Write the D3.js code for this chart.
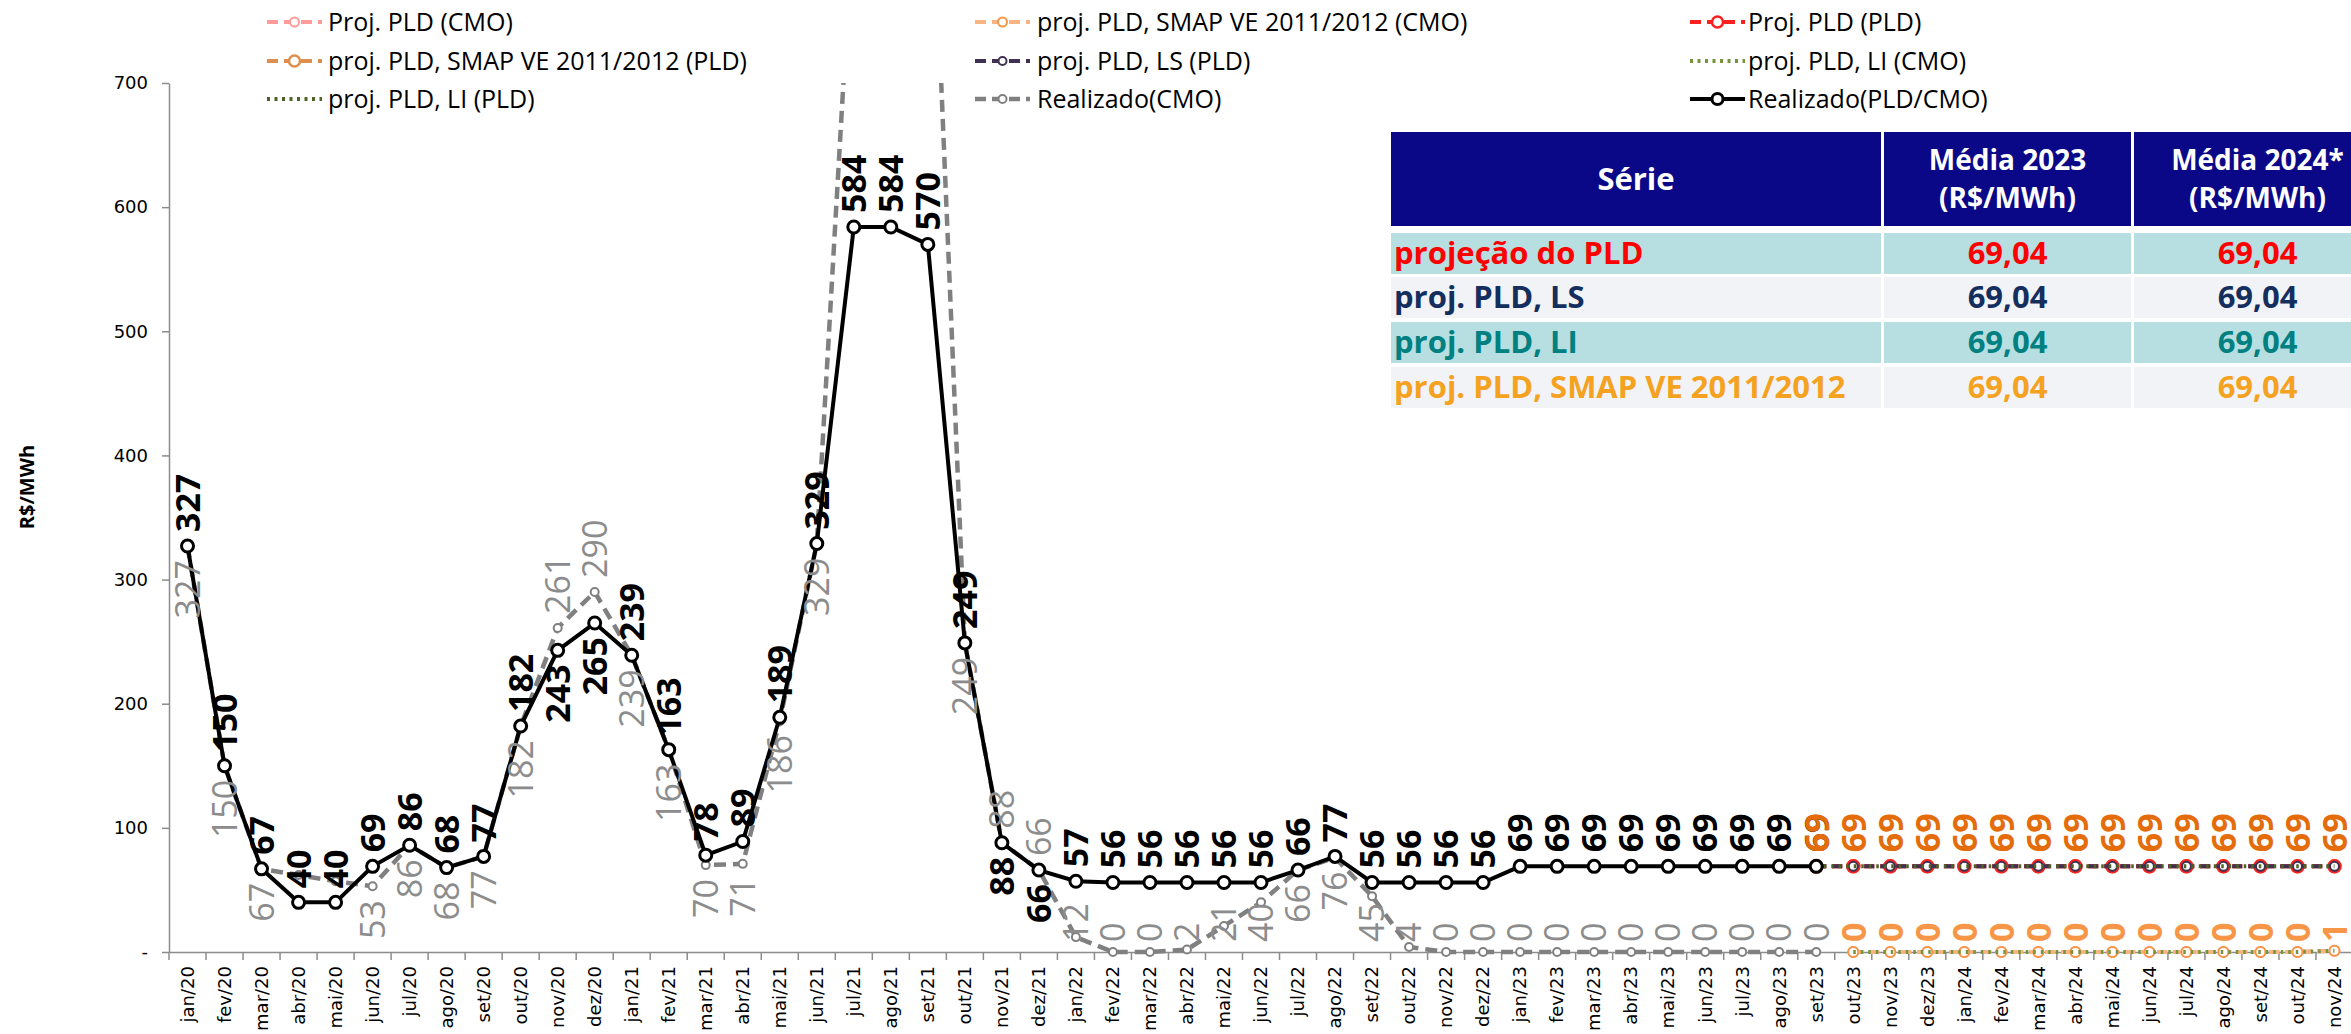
<!DOCTYPE html>
<html><head><meta charset="utf-8">
<script src="https://cdn.jsdelivr.net/npm/d3@7"></script>
<style>body{margin:0;background:#fff}svg{display:block}</style>
</head><body>
<svg id="chart" width="2351" height="1034"></svg>
<script>
// ---------------- DATA ----------------
const months = ["jan/20","fev/20","mar/20","abr/20","mai/20","jun/20","jul/20","ago/20","set/20","out/20","nov/20","dez/20",
"jan/21","fev/21","mar/21","abr/21","mai/21","jun/21","jul/21","ago/21","set/21","out/21","nov/21","dez/21",
"jan/22","fev/22","mar/22","abr/22","mai/22","jun/22","jul/22","ago/22","set/22","out/22","nov/22","dez/22",
"jan/23","fev/23","mar/23","abr/23","mai/23","jun/23","jul/23","ago/23","set/23","out/23","nov/23","dez/23",
"jan/24","fev/24","mar/24","abr/24","mai/24","jun/24","jul/24","ago/24","set/24","out/24","nov/24"];

// realized: jan/20 .. set/23
const realMonths = ["jan/20","fev/20","mar/20","abr/20","mai/20","jun/20","jul/20","ago/20","set/20","out/20","nov/20","dez/20",
"jan/21","fev/21","mar/21","abr/21","mai/21","jun/21","jul/21","ago/21","set/21","out/21","nov/21","dez/21",
"jan/22","fev/22","mar/22","abr/22","mai/22","jun/22","jul/22","ago/22","set/22","out/22","nov/22","dez/22",
"jan/23","fev/23","mar/23","abr/23","mai/23","jun/23","jul/23","ago/23","set/23"];
const realizadoPLD = [327,150,67,40,40,69,86,68,77,182,243,265,
  239,163,78,89,189,329,584,584,570,249,88,66,
  57,56,56,56,56,56,66,77,56,56,56,56,
  69,69,69,69,69,69,69,69,69];
const realizadoCMO = [327,150,67,62,57,53,86,68,77,182,261,290,
  239,163,70,71,186,329,845,1000,955,249,88,66,
  12,0,0,2,21,40,66,76,45,4,0,0,
  0,0,0,0,0,0,0,0,0];

// projections (PLD): set/23 .. nov/24
const projPLDMonths = ["set/23","out/23","nov/23","dez/23","jan/24","fev/24","mar/24","abr/24","mai/24","jun/24","jul/24","ago/24","set/24","out/24","nov/24"];
const projPLD_PLD  = [69.04,69.04,69.04,69.04,69.04,69.04,69.04,69.04,69.04,69.04,69.04,69.04,69.04,69.04,69.04];
const projSMAP_PLD = [69.04,69.04,69.04,69.04,69.04,69.04,69.04,69.04,69.04,69.04,69.04,69.04,69.04,69.04,69.04];
const projLS_PLD   = [69.04,69.04,69.04,69.04,69.04,69.04,69.04,69.04,69.04,69.04,69.04,69.04,69.04,69.04,69.04];
const projLI_PLD   = [69.04,69.04,69.04,69.04,69.04,69.04,69.04,69.04,69.04,69.04,69.04,69.04,69.04,69.04,69.04];

// projections (CMO): out/23 .. nov/24
const projCMOMonths = ["out/23","nov/23","dez/23","jan/24","fev/24","mar/24","abr/24","mai/24","jun/24","jul/24","ago/24","set/24","out/24","nov/24"];
const projPLD_CMO  = [0,0,0,0,0,0,0,0,0,0,0,0,0,1];
const projSMAP_CMO = [0,0,0,0,0,0,0,0,0,0,0,0,0,1];
const projLI_CMO   = [0,0,0,0,0,0,0,0,0,0,0,0,0,1];

const yTicks = [0,100,200,300,400,500,600,700];
const yTickLabels = ["-","100","200","300","400","500","600","700"];

const legendNames = ["Proj. PLD (CMO)","proj. PLD, SMAP VE 2011/2012 (CMO)","Proj. PLD (PLD)",
  "proj. PLD, SMAP VE 2011/2012 (PLD)","proj. PLD, LS (PLD)","proj. PLD, LI (CMO)",
  "proj. PLD, LI (PLD)","Realizado(CMO)","Realizado(PLD/CMO)"];

const tableHeader = [["Série"],["Média 2023","(R$/MWh)"],["Média 2024*","(R$/MWh)"]];
const tableSeries = ["projeção do PLD","proj. PLD, LS","proj. PLD, LI","proj. PLD, SMAP VE 2011/2012"];
const tableMedia2023 = ["69,04","69,04","69,04","69,04"];
const tableMedia2024 = ["69,04","69,04","69,04","69,04"];

// ---------------- LAYOUT / STYLE ----------------
const FONT = "'Open Sans', 'DejaVu Sans', sans-serif";
const AXFONT = "'DejaVu Sans', Verdana, sans-serif";
const plotL = 169, plotR = 2353, plotT = 83, plotB = 952;
const svg = d3.select("#chart");

const x = d3.scaleBand().domain(months).range([plotL, plotR]);
const xc = m => x(m) + x.bandwidth() / 2;
const y = d3.scaleLinear().domain([0, 700]).range([plotB, plotT]);

svg.append("defs").append("clipPath").attr("id","clip")
  .append("rect").attr("x", plotL).attr("y", plotT).attr("width", plotR - plotL).attr("height", plotB - plotT + 10);

const styles = {
  "Proj. PLD (CMO)": {color:"#FF9B9B", width:4, dash:"10,6", marker:5, mstroke:2},
  "proj. PLD, SMAP VE 2011/2012 (CMO)": {color:"#F9B483", width:4, dash:"10,6", marker:5, mstroke:2, mcolor:"#F79646"},
  "Proj. PLD (PLD)": {color:"#FF2020", width:4, dash:"10,6", marker:6, mstroke:2.5},
  "proj. PLD, SMAP VE 2011/2012 (PLD)": {color:"#DE8F4E", width:4, dash:"10,6", marker:6, mstroke:2.5},
  "proj. PLD, LS (PLD)": {color:"#3F3151", width:4, dash:"10,6", marker:4.5, mstroke:2},
  "proj. PLD, LI (CMO)": {color:"#77933C", width:4, dash:"2.5,5", marker:0},
  "proj. PLD, LI (PLD)": {color:"#4F6228", width:4, dash:"2.5,5", marker:0},
  "Realizado(CMO)": {color:"#808080", width:4.5, dash:"12,7", marker:4, mstroke:2},
  "Realizado(PLD/CMO)": {color:"#000000", width:4, dash:null, marker:6, mstroke:3}
};

// ---------------- AXES ----------------
const gy = svg.append("g").attr("transform", `translate(${plotL},0)`)
  .call(d3.axisLeft(y).tickValues(yTicks).tickFormat((d,i) => yTickLabels[i]).tickSize(7).tickSizeOuter(0).tickPadding(14));
gy.select(".domain").attr("stroke","#8C8C8C").attr("stroke-width",1.5);
gy.selectAll(".tick line").attr("stroke","#8C8C8C").attr("stroke-width",1.5);
gy.selectAll(".tick text").attr("font-family",AXFONT).attr("font-size",18).attr("fill","#000");

const gx = svg.append("g").attr("transform", `translate(0,${plotB})`)
  .call(d3.axisBottom(x).tickSize(0).tickSizeOuter(0));
gx.select(".domain").attr("stroke","#8C8C8C").attr("stroke-width",1.5);
gx.selectAll(".tick text").attr("font-family",AXFONT).attr("font-size",18).attr("fill","#000")
  .attr("transform","rotate(-90)").attr("x",-14).attr("y",0).attr("dy","0.35em").attr("text-anchor","end");
svg.append("g").selectAll("line").data(months.concat(["_end"])).join("line")
  .attr("x1", d => d === "_end" ? plotR : x(d)).attr("x2", d => d === "_end" ? plotR : x(d))
  .attr("y1", plotB).attr("y2", plotB + 8).attr("stroke","#8C8C8C").attr("stroke-width",1.5);

svg.append("text").attr("transform","translate(27,487) rotate(-90)").attr("text-anchor","middle")
  .attr("font-family",FONT).attr("font-weight","bold").attr("font-size",20).attr("dy","0.35em").text("R$/MWh");

// ---------------- SERIES ----------------
const seriesG = svg.append("g");
function drawSeries(name, cats, vals) {
  const s = styles[name];
  const pts = cats.map((c, i) => ({c, v: vals[i]}));
  const line = d3.line().x(d => xc(d.c)).y(d => y(d.v));
  seriesG.append("path").attr("d", line(pts)).attr("fill","none")
    .attr("stroke", s.color).attr("stroke-width", s.width)
    .attr("stroke-dasharray", s.dash).attr("clip-path","url(#clip)");
  if (s.marker) {
    seriesG.append("g").selectAll("circle").data(pts.filter(d => d.v <= 700)).join("circle")
      .attr("cx", d => xc(d.c)).attr("cy", d => y(d.v)).attr("r", s.marker)
      .attr("fill","#fff").attr("stroke", s.mcolor || s.color).attr("stroke-width", s.mstroke);
  }
}
drawSeries("Proj. PLD (CMO)", projCMOMonths, projPLD_CMO);
drawSeries("proj. PLD, SMAP VE 2011/2012 (CMO)", projCMOMonths, projSMAP_CMO);
drawSeries("proj. PLD, LI (CMO)", projCMOMonths, projLI_CMO);
drawSeries("Realizado(CMO)", realMonths, realizadoCMO);
drawSeries("proj. PLD, SMAP VE 2011/2012 (PLD)", projPLDMonths, projSMAP_PLD);
drawSeries("Proj. PLD (PLD)", projPLDMonths, projPLD_PLD);
drawSeries("proj. PLD, LS (PLD)", projPLDMonths, projLS_PLD);
drawSeries("proj. PLD, LI (PLD)", projPLDMonths, projLI_PLD);
drawSeries("Realizado(PLD/CMO)", realMonths, realizadoPLD);

// ---------------- DATA LABELS ----------------
const labelG = svg.append("g");
const flipSet = new Set(["nov/20","dez/20","nov/21","dez/21"]);
const hideCMO = new Set(["abr/20","mai/20"]);
function addLabel(px, py, txt, o) {
  const t = labelG.append("text").text(txt).attr("font-family",FONT)
    .attr("font-size",o.size).attr("font-weight",o.weight).attr("fill",o.color)
    .attr("dy","0.36em").attr("text-anchor","start");
  const len = t.node().getComputedTextLength();
  const gap = 14;
  let bottom;
  if (o.pos === "above") bottom = py - gap;
  else {
    bottom = py + gap + len;
    if (bottom > plotB - 10) bottom = plotB - 10;
  }
  t.attr("transform", `translate(${px},${bottom}) rotate(-90)`);
}
const fmt = d3.format(".0f");
realMonths.forEach((m, i) => {
  const v = realizadoCMO[i];
  if (v > 700 || hideCMO.has(m)) return;
  addLabel(xc(m), y(v), fmt(v), {color:"#8C8C8C", weight:"normal", size:34, pos: flipSet.has(m) ? "above" : "below"});
});
realMonths.forEach((m, i) => {
  const v = realizadoPLD[i];
  addLabel(xc(m), y(v), fmt(v), {color:"#000", weight:"bold", size:34, pos: flipSet.has(m) ? "below" : "above"});
});
projPLDMonths.forEach((m, i) => {
  addLabel(xc(m), y(projSMAP_PLD[i]), fmt(projSMAP_PLD[i]), {color:"#E46C0A", weight:"bold", size:34, pos:"above"});
});
projCMOMonths.forEach((m, i) => {
  addLabel(xc(m), y(projSMAP_CMO[i]), fmt(projSMAP_CMO[i]), {color:"#F79646", weight:"bold", size:34, pos:"below"});
});

// ---------------- LEGEND ----------------
const legG = svg.append("g");
const legCols = [[267, 328], [975, 1037], [1690, 1748]];
const legRows = [22, 61, 99];
legendNames.forEach((name, i) => {
  const s = styles[name];
  const [mx, tx] = legCols[i % 3];
  const ly = legRows[Math.floor(i / 3)];
  legG.append("line").attr("x1", mx).attr("x2", mx + 55).attr("y1", ly).attr("y2", ly)
    .attr("stroke", s.color).attr("stroke-width", s.width).attr("stroke-dasharray", s.marker ? (s.dash ? "11,6" : null) : "3,4.5");
  if (s.marker) legG.append("circle").attr("cx", mx + 27.5).attr("cy", ly).attr("r", Math.max(4, s.marker - 0.5))
    .attr("fill","#fff").attr("stroke", s.mcolor || s.color).attr("stroke-width", s.mstroke);
  legG.append("text").attr("x", tx).attr("y", ly).attr("dy","0.35em").attr("font-family",FONT)
    .attr("font-size",25).attr("fill","#000").text(name);
});

// ---------------- TABLE ----------------
const tG = svg.append("g");
const colX = [1391, 1881, 2131, 2381];
const headTop = 132, headBot = 226;
const rowTops = [233, 277, 322, 367], rowH = 41;
const rowFill = ["#B7DEE1","#F2F3F7","#B7DEE1","#F2F3F7"];
const rowColor = ["#FF0000","#142E5E","#008080","#F4A21F"];
for (let c = 0; c < 3; c++) {
  tG.append("rect").attr("x", colX[c] + (c ? 3 : 0)).attr("y", headTop)
    .attr("width", colX[c+1] - colX[c] - (c ? 3 : 0)).attr("height", headBot - headTop).attr("fill","#0B0888");
  const lines = tableHeader[c];
  const cx = (colX[c] + colX[c+1]) / 2 + (c ? 1.5 : 0);
  lines.forEach((ln, k) => {
    const cy = lines.length === 1 ? (headTop + headBot) / 2 : (headTop + headBot) / 2 + (k - 0.5) * 38;
    tG.append("text").attr("x", cx).attr("y", cy).attr("dy","0.35em").attr("text-anchor","middle")
      .attr("font-family",FONT).attr("font-weight","bold").attr("font-size", c ? 28 : 31).attr("fill","#fff").text(ln);
  });
}
tableSeries.forEach((nm, r) => {
  const ty = rowTops[r];
  for (let c = 0; c < 3; c++) {
    tG.append("rect").attr("x", colX[c] + (c ? 3 : 0)).attr("y", ty)
      .attr("width", colX[c+1] - colX[c] - (c ? 3 : 0)).attr("height", rowH).attr("fill", rowFill[r]);
  }
  const cy = ty + rowH / 2;
  tG.append("text").attr("x", colX[0] + 3).attr("y", cy).attr("dy","0.35em")
    .attr("font-family",FONT).attr("font-weight","bold").attr("font-size",31).attr("fill",rowColor[r]).text(nm);
  [tableMedia2023[r], tableMedia2024[r]].forEach((v, k) => {
    tG.append("text").attr("x", (colX[k+1] + colX[k+2]) / 2 + 1.5).attr("y", cy).attr("dy","0.35em").attr("text-anchor","middle")
      .attr("font-family",FONT).attr("font-weight","bold").attr("font-size",31).attr("fill",rowColor[r]).text(v);
  });
});
</script>
</body></html>
